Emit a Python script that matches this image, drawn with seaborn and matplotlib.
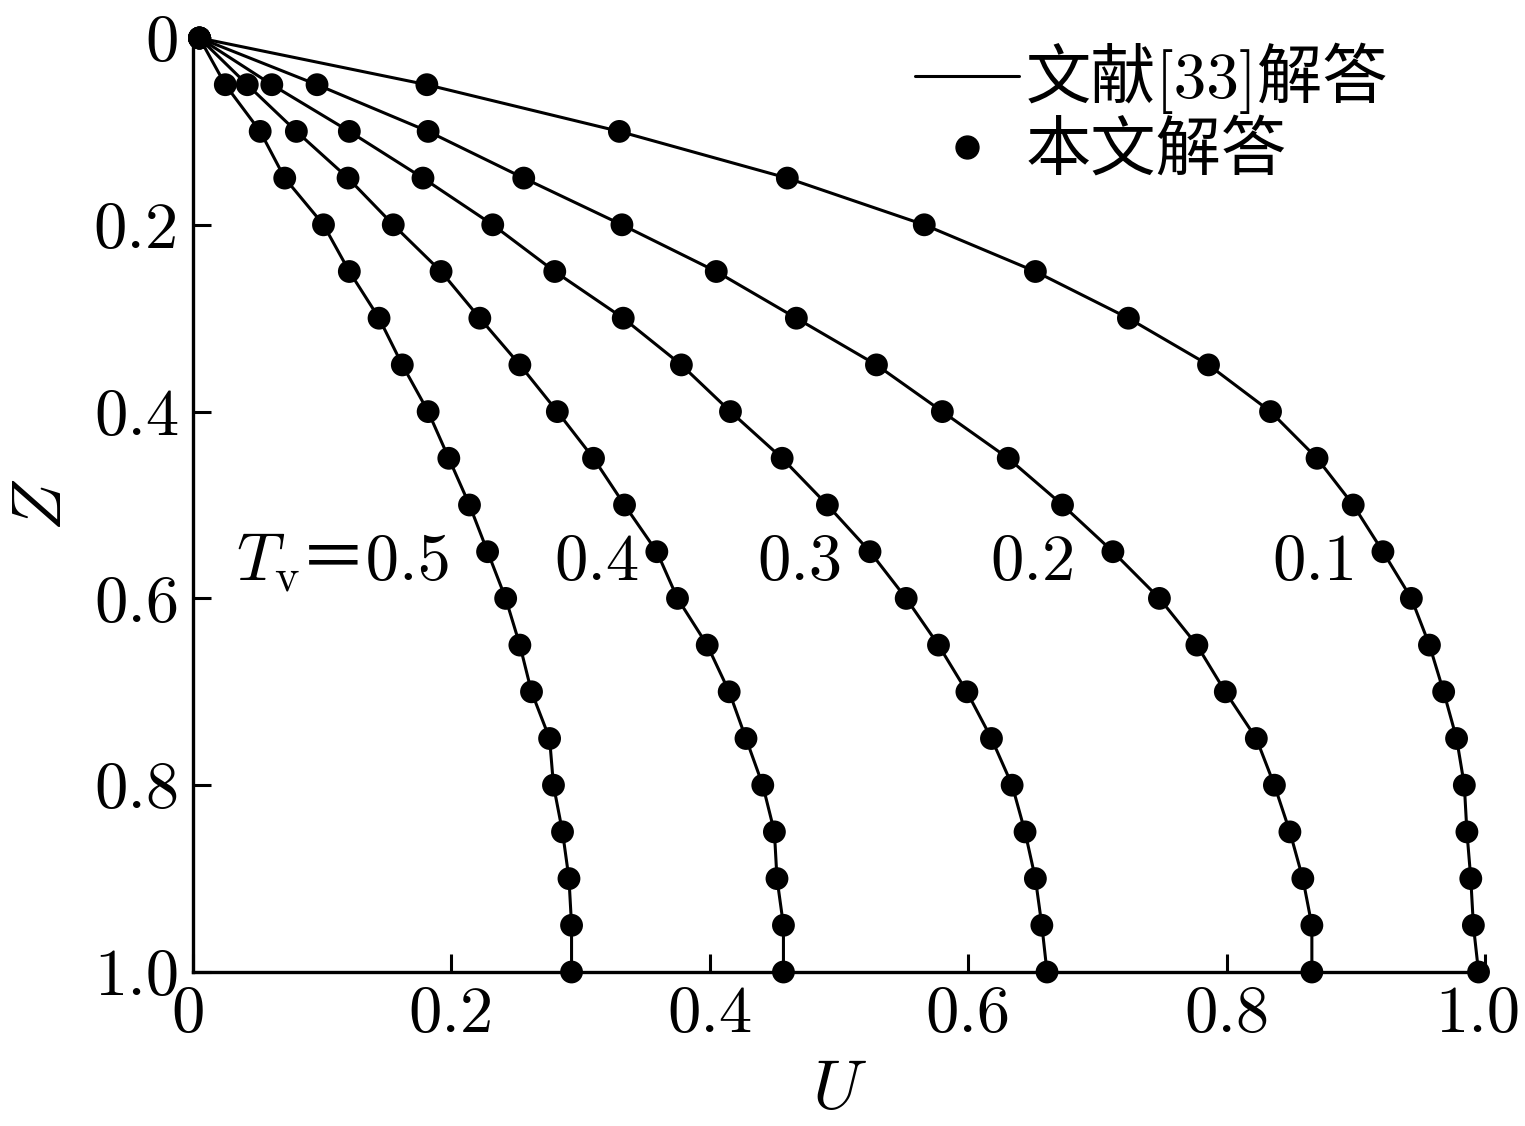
import numpy as np
import pandas as pd
import matplotlib
matplotlib.use("Agg")
import matplotlib.pyplot as plt
from matplotlib.lines import Line2D
from matplotlib.transforms import ScaledTranslation
import seaborn as sns

# depth ratio Z (same for every curve)
Z = [0.00, 0.05, 0.10, 0.15, 0.20, 0.25, 0.30, 0.35, 0.40, 0.45, 0.50,
     0.55, 0.60, 0.65, 0.70, 0.75, 0.80, 0.85, 0.90, 0.95, 1.00]

# U for each Tv
U_01 = [0.005, 0.181, 0.330, 0.460, 0.566, 0.652, 0.724, 0.786, 0.834, 0.870, 0.898,
        0.921, 0.943, 0.957, 0.968, 0.978, 0.984, 0.986, 0.989, 0.991, 0.995]
U_02 = [0.005, 0.096, 0.182, 0.256, 0.332, 0.405, 0.467, 0.529, 0.580, 0.631, 0.673,
        0.712, 0.748, 0.777, 0.799, 0.823, 0.837, 0.849, 0.859, 0.866, 0.866]
U_03 = [0.005, 0.061, 0.121, 0.178, 0.232, 0.280, 0.333, 0.378, 0.416, 0.456, 0.491,
        0.524, 0.552, 0.577, 0.599, 0.618, 0.634, 0.644, 0.652, 0.657, 0.661]
U_04 = [0.005, 0.042, 0.080, 0.120, 0.155, 0.192, 0.222, 0.253, 0.282, 0.310, 0.334,
        0.359, 0.375, 0.398, 0.415, 0.428, 0.441, 0.450, 0.452, 0.457, 0.457]
U_05 = [0.005, 0.025, 0.052, 0.071, 0.101, 0.121, 0.144, 0.162, 0.182, 0.198, 0.214,
        0.228, 0.242, 0.253, 0.262, 0.276, 0.279, 0.286, 0.291, 0.293, 0.293]

Tv = [0.1, 0.2, 0.3, 0.4, 0.5]
curve_labels = ['0.1', '0.2', '0.3', '0.4', '0.5']
xticks = [0, 0.2, 0.4, 0.6, 0.8, 1.0]
xtick_labels = ['0', '0.2', '0.4', '0.6', '0.8', '1.0']
yticks = [0, 0.2, 0.4, 0.6, 0.8, 1.0]
ytick_labels = ['0', '0.2', '0.4', '0.6', '0.8', '1.0']

frames = []
for tv, u in zip(Tv, [U_01, U_02, U_03, U_04, U_05]):
    frames.append(pd.DataFrame({'U': u, 'Z': Z, 'Tv': tv}))
df = pd.concat(frames, ignore_index=True)

sns.set_style('ticks')
plt.rcParams['font.family'] = ['cmr10', 'Noto Sans CJK SC', 'DejaVu Sans']
plt.rcParams['mathtext.fontset'] = 'cm'
plt.rcParams['axes.unicode_minus'] = False
plt.rcParams['axes.formatter.use_mathtext'] = True
for key in ['text.color', 'axes.labelcolor', 'xtick.color', 'ytick.color', 'axes.edgecolor']:
    plt.rcParams[key] = 'black'

FS = 48

fig = plt.figure(figsize=(15.25, 11.26), dpi=100)
ax = fig.add_axes([193 / 1525, 1 - 972 / 1126, 1292 / 1525, 934 / 1126])

sns.lineplot(data=df, x='U', y='Z', units='Tv', estimator=None, sort=False,
             color='black', lw=2.2, ax=ax, legend=False)
sns.scatterplot(data=df, x='U', y='Z', color='black', s=270, edgecolor='none',
                ax=ax, legend=False, zorder=3)
for art in ax.lines + ax.collections:
    art.set_clip_on(False)

ax.set_xlim(0, 1)
ax.set_ylim(1, 0)
ax.set_xticks(xticks)
ax.set_xticklabels(xtick_labels)
ax.set_yticks(yticks)
ax.set_yticklabels(ytick_labels)
ax.tick_params(direction='in', length=13, width=2.2, labelsize=FS, pad=10)
ax.tick_params(axis='y', pad=10)
for s in ['top', 'right']:
    ax.spines[s].set_visible(False)
for s in ['left', 'bottom']:
    ax.spines[s].set_linewidth(2.4)

# nudge the end labels the way the original sits
last = ax.get_xticklabels()[-1]
last.set_transform(last.get_transform() + ScaledTranslation(-0.07, 0, fig.dpi_scale_trans))
first = ax.get_xticklabels()[0]
first.set_transform(first.get_transform() + ScaledTranslation(-0.05, 0, fig.dpi_scale_trans))

ax.set_xlabel('$U$', fontsize=FS + 2, labelpad=10)
ax.set_ylabel('$Z$', fontsize=FS + 2, labelpad=14)

# curve labels
label_u = [0.868, 0.650, 0.470, 0.313]
for u, lab in zip(label_u, curve_labels[:4]):
    ax.text(u, 0.562, lab, fontsize=FS, ha='center', va='center')
ax.text(0.083, 0.562, r'$T_{\mathrm{v}}$', fontsize=FS, ha='right', va='center')
ax.text(0.083, 0.562, '＝0.5', fontsize=FS, ha='left', va='center')

handles = [Line2D([], [], color='black', lw=2.2),
           Line2D([], [], ls='none', marker='o', color='black', markersize=16.5)]
fig.legend(handles, ['文献[33]解答', '本文解答'], loc='upper left',
           bbox_to_anchor=(915 / 1525, 1 - 43 / 1126), frameon=False,
           fontsize=47, handlelength=1.6, handletextpad=0.1,
           labelspacing=0.12, borderpad=0, borderaxespad=0)

fig.savefig('out.png', dpi=100)
